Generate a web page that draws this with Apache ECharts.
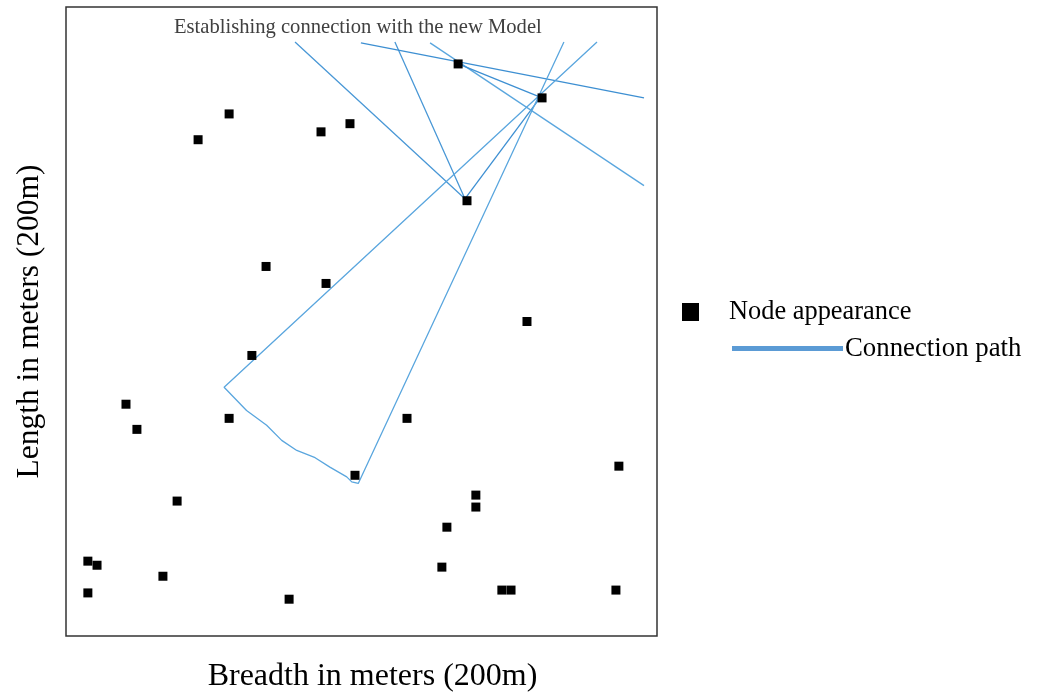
<!DOCTYPE html>
<html>
<head>
<meta charset="utf-8">
<script src="https://cdn.jsdelivr.net/npm/echarts@6/dist/echarts.min.js"></script>
<style>
html,body{margin:0;padding:0;background:#fff;}
#c{width:1038px;height:693px;}
</style>
</head>
<body>
<div id="c"></div>
<script>
// Field size: 200 m x 200 m
const titleText = 'Establishing connection with the new Model';
const xAxisTitle = 'Breadth in meters (200m)';
const yAxisTitle = 'Length in meters (200m)';
const nodeLabel = 'Node appearance';
const pathLabel = 'Connection path';

// node positions [breadth, length] in meters
const nodes = [
  [55.2,166.0],[44.7,157.8],[86.3,160.3],[96.1,162.9],[132.7,181.9],
  [161.1,171.1],[135.7,138.4],[67.7,117.5],[88.0,112.1],[156.0,100.0],
  [62.9,89.2],[20.3,73.7],[24.0,65.7],[55.2,69.2],[115.4,69.2],
  [97.8,51.1],[187.1,54.0],[37.6,42.9],[138.7,44.8],[138.7,41.0],
  [128.9,34.6],[7.4,23.8],[10.5,22.5],[32.8,19.0],[127.2,21.9],
  [7.4,13.7],[75.5,11.7],[147.5,14.6],[150.6,14.6],[186.1,14.6]
];

// connection paths [breadth, length]
const pathV = [[77.5,188.9],[135.0,139.0],[111.3,188.9]];
const path76 = [[135.0,139.0],[160.4,171.1]];
const pathTopA = [[99.8,188.6],[195.6,171.1]];
const pathTopB = [[123.2,188.6],[195.6,143.2]];
const path56 = [[132.7,181.9],[161.1,171.1]];
const pathLoop = [[179.7,188.9],[53.5,79.1],[61.1,71.7],[67.9,67.0],[73.0,62.2],[78.1,59.0],
  [84.3,56.7],[89.3,53.7],[95.0,50.6],[96.7,49.0],[98.9,48.5],[168.5,188.9]];

const paths = [
  {d: pathV, c: '#4a98d6'},
  {d: path76, c: '#3d8fd2'},
  {d: pathTopA, c: '#3d8fd2'},
  {d: pathTopB, c: '#5aa6de'},
  {d: path56, c: '#3d8fd2'},
  {d: pathLoop, c: '#5aa6de'}
];

const serif = 'Liberation Serif, Times New Roman, serif';
const chart = echarts.init(document.getElementById('c'), null, {renderer: 'canvas'});

const series = paths.map(p => ({
  type: 'line',
  name: pathLabel,
  data: p.d,
  showSymbol: false,
  symbol: 'none',
  color: '#5b9bd5',
  lineStyle: {color: p.c, width: 1.3},
  silent: true,
  animation: false,
  z: 2
}));
series.push({
  type: 'scatter',
  name: nodeLabel,
  data: nodes,
  symbol: 'rect',
  symbolSize: 9,
  itemStyle: {color: '#000', opacity: 1},
  animation: false,
  z: 3
});

chart.setOption({
  backgroundColor: '#fff',
  animation: false,
  title: {
    text: titleText,
    left: 174, top: 17, padding: 0,
    textStyle: {fontFamily: serif, fontSize: 20.6, fontWeight: 'normal', color: '#404040'}
  },
  grid: {
    left: 66, top: 7, width: 591, height: 629,
    outerBoundsMode: 'none', containLabel: false,
    show: true, borderColor: '#333', borderWidth: 1.5, backgroundColor: 'transparent'
  },
  legend: [
    {
      data: [nodeLabel], left: 682, top: 299, padding: 0,
      icon: 'rect', itemWidth: 17, itemHeight: 18,
      selectedMode: false,
      itemStyle: {color: '#000', opacity: 1},
      textStyle: {fontFamily: serif, fontSize: 26.4, color: '#000', padding: [0, 0, 0, 25]}
    },
    {
      data: [pathLabel], left: 732, top: 335, padding: 0,
      icon: 'rect', itemWidth: 111, itemHeight: 5,
      selectedMode: false,
      itemStyle: {color: '#5b9bd5'},
      textStyle: {fontFamily: serif, fontSize: 26.8, color: '#000', padding: [0, 0, 0, -3]}
    }
  ],
  xAxis: {
    type: 'value', min: 0, max: 200,
    axisLine: {show: false}, axisTick: {show: false}, axisLabel: {show: false}, splitLine: {show: false},
    name: xAxisTitle, nameLocation: 'middle', nameGap: 25,
    nameTextStyle: {fontFamily: serif, fontSize: 32, color: '#000', padding: [0, 0, 0, 22]}
  },
  yAxis: {
    type: 'value', min: 0, max: 200,
    axisLine: {show: false}, axisTick: {show: false}, axisLabel: {show: false}, splitLine: {show: false},
    name: yAxisTitle, nameLocation: 'middle', nameGap: 20, nameRotate: 90,
    nameTextStyle: {fontFamily: serif, fontSize: 31.5, color: '#000'}
  },
  series: series
});
</script>
</body>
</html>
